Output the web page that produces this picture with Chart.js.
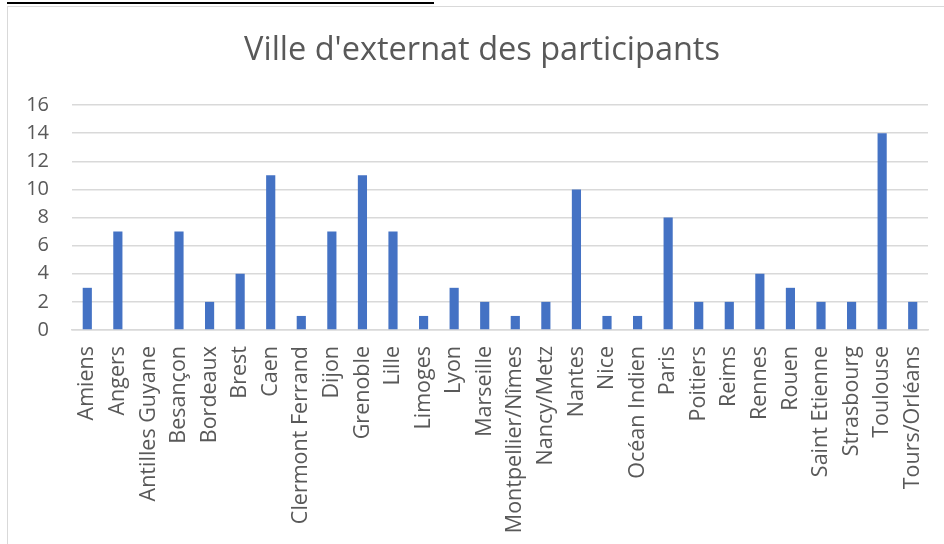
<!DOCTYPE html>
<html>
<head>
<meta charset="utf-8">
<script src="https://cdn.jsdelivr.net/npm/chart.js@4"></script>
<style>
  html, body { margin: 0; padding: 0; background: #fff; overflow: hidden; }
  #rule { position: absolute; left: 7px; top: 2px; width: 427px; height: 2px; background: #000; }
  #box { position: absolute; left: 7px; top: 6px; width: 960px; height: 560px;
         border: 1px solid #d9d9d9; box-sizing: border-box; }
  #chartContainer { position: absolute; left: 1px; top: -6px; width: 946px; height: 544px; }
</style>
</head>
<body>
<div id="rule"></div>
<div id="box">
  <div id="chartContainer"><canvas id="myChart"></canvas></div>
</div>
<script>
// Categories and values
const cities = ['Amiens', 'Angers', 'Antilles Guyane', 'Besançon', 'Bordeaux', 'Brest', 'Caen',
  'Clermont Ferrand', 'Dijon', 'Grenoble', 'Lille', 'Limoges', 'Lyon', 'Marseille',
  'Montpellier/Nîmes', 'Nancy/Metz', 'Nantes', 'Nice', 'Océan Indien', 'Paris', 'Poitiers',
  'Reims', 'Rennes', 'Rouen', 'Saint Etienne', 'Strasbourg', 'Toulouse', 'Tours/Orléans'];
const counts = [3, 7, 0, 7, 2, 4, 11, 1, 7, 11, 7, 1, 3, 2, 1, 2, 10, 1, 1, 8, 2, 2, 4, 3, 2, 2, 14, 2];
const yTicks = [0, 2, 4, 6, 8, 10, 12, 14, 16];

const ctx = document.getElementById('myChart').getContext('2d');
const textColor = '#595959';

new Chart(ctx, {
  type: 'bar',
  data: {
    labels: cities,
    datasets: [{
      label: 'Participants',
      data: counts,
      backgroundColor: '#4472C4',
      borderWidth: 0,
      barPercentage: 0.6,
      categoryPercentage: 0.5
    }]
  },
  options: {
    responsive: true,
    maintainAspectRatio: false,
    animation: false,
    layout: { padding: { left: 0, right: 0, top: 0, bottom: 0 } },
    plugins: {
      legend: { display: false },
      tooltip: { enabled: false },
      title: {
        display: true,
        text: "Ville d'externat des participants",
        color: textColor,
        font: { family: 'Open Sans', size: 32.5, weight: 'normal' },
        padding: { top: 30, bottom: 35 }
      }
    },
    scales: {
      x: {
        grid: { display: false },
        border: { color: '#d9d9d9', width: 1.5 },
        ticks: {
          color: textColor,
          font: { family: 'Open Sans', size: 21.5 },
          maxRotation: 90,
          minRotation: 90,
          autoSkip: false,
          padding: 8
        },
        afterFit: function(scale) { scale.height = 215; }
      },
      y: {
        min: 0,
        max: 16,
        afterBuildTicks: function(scale) { scale.ticks = yTicks.map(v => ({ value: v })); },
        grid: { color: '#d9d9d9', lineWidth: 1.5, drawTicks: false },
        border: { display: false },
        ticks: {
          color: textColor,
          font: { family: 'Open Sans', size: 20 },
          padding: 23
        },
        afterFit: function(scale) { scale.width = 63; }
      },
      // empty right margin so the plot ends where the reference does while the title stays centred on the box
      yRight: {
        position: 'right',
        grid: { display: false },
        border: { display: false },
        ticks: { display: false },
        afterFit: function(scale) { scale.width = 27; }
      }
    }
  }
});
</script>
</body>
</html>
